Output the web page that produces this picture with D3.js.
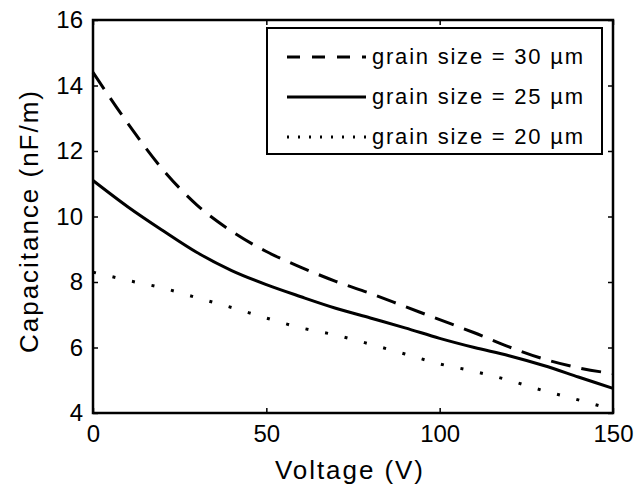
<!DOCTYPE html>
<html><head><meta charset="utf-8">
<script src="https://cdn.jsdelivr.net/npm/d3@7"></script>
<style>body{margin:0;background:#fff;} text{font-family:"Liberation Sans",Arial,sans-serif;fill:#000;}</style>
</head><body>
<svg id="c" width="636" height="491"></svg>
<script>
const voltage = [0,10,20,30,40,50,60,70,80,90,100,110,120,130,140,150];
const grain30 = [14.4,12.85,11.45,10.35,9.55,8.93,8.45,8.02,7.65,7.25,6.85,6.45,6.02,5.65,5.38,5.2];
const grain25 = [11.1,10.3,9.58,8.9,8.35,7.92,7.55,7.2,6.9,6.6,6.28,6.0,5.75,5.45,5.1,4.75];
const grain20 = [8.3,8.05,7.82,7.52,7.22,6.9,6.6,6.38,6.1,5.8,5.5,5.27,5.0,4.68,4.4,4.1];
const seriesNames = ["grain size = 30 \u00b5m","grain size = 25 \u00b5m","grain size = 20 \u00b5m"];
const xTicks = [0,50,100,150];
const yTicks = [4,6,8,10,12,14,16];

const svg = d3.select("#c");
const L=93,R=613,T=20,B=413;
const x = d3.scaleLinear().domain([0,150]).range([L,R]);
const y = d3.scaleLinear().domain([4,16]).range([B,T]);

const styles = [{dash:"20,11"},{dash:null},{dash:"3,17"}];
const data = [grain30,grain25,grain20];
const line = d3.line().x((d,i)=>x(voltage[i])).y(d=>y(d)).curve(d3.curveMonotoneX);

const g = svg.append("g");
data.forEach((s,k)=>{
  g.append("path").datum(s).attr("d",line).attr("fill","none").attr("stroke","#000")
   .attr("stroke-width",3).attr("stroke-dasharray",styles[k].dash);
});

// axes
const ax = d3.axisBottom(x).tickValues(xTicks).tickSize(-5).tickPadding(12).tickFormat(d3.format("d"));
const ay = d3.axisLeft(y).tickValues(yTicks).tickSize(-5).tickPadding(10).tickFormat(d3.format("d"));
const gx = svg.append("g").attr("transform",`translate(0,${B})`).call(ax);
const gy = svg.append("g").attr("transform",`translate(${L},0)`).call(ay);
svg.append("g").attr("transform",`translate(0,${T})`).call(d3.axisTop(x).tickValues(xTicks).tickSize(-5).tickFormat(""));
svg.append("g").attr("transform",`translate(${R},0)`).call(d3.axisRight(y).tickValues(yTicks).tickSize(-5).tickFormat(""));
svg.selectAll(".domain").remove();
svg.selectAll(".tick line").attr("stroke","#000").attr("stroke-width",1.5);
gx.selectAll("text").attr("font-size",24).style("font-family","Liberation Sans, Arial");
gy.selectAll("text").attr("font-size",24).style("font-family","Liberation Sans, Arial");
svg.append("rect").attr("x",L).attr("y",T).attr("width",R-L).attr("height",B-T)
  .attr("fill","none").attr("stroke","#000").attr("stroke-width",2.5);

// labels
svg.append("text").attr("x",349).attr("y",479).attr("text-anchor","middle").attr("font-size",26)
  .attr("textLength",148).attr("lengthAdjust","spacing").text("Voltage  (V)");
svg.append("text").attr("transform","translate(38,222) rotate(-90)").attr("text-anchor","middle").attr("font-size",26)
  .attr("textLength",262).attr("lengthAdjust","spacing").text("Capacitance (nF/m)");

// legend
const lg = svg.append("g");
lg.append("rect").attr("x",267).attr("y",28).attr("width",335).attr("height",126).attr("fill","#fff").attr("stroke","#000").attr("stroke-width",2);
seriesNames.forEach((n,k)=>{
  const yy = 57 + k*40;
  lg.append("line").attr("x1",287).attr("x2",366).attr("y1",yy).attr("y2",yy).attr("stroke","#000")
    .attr("stroke-width",3).attr("stroke-dasharray",styles[k].dash ? (k===0?"13,12":"2,9") : null);
  lg.append("text").attr("x",372).attr("y",yy+7).attr("font-size",22)
    .attr("textLength",211).attr("lengthAdjust","spacing").text(n);
});
</script>
</body></html>
